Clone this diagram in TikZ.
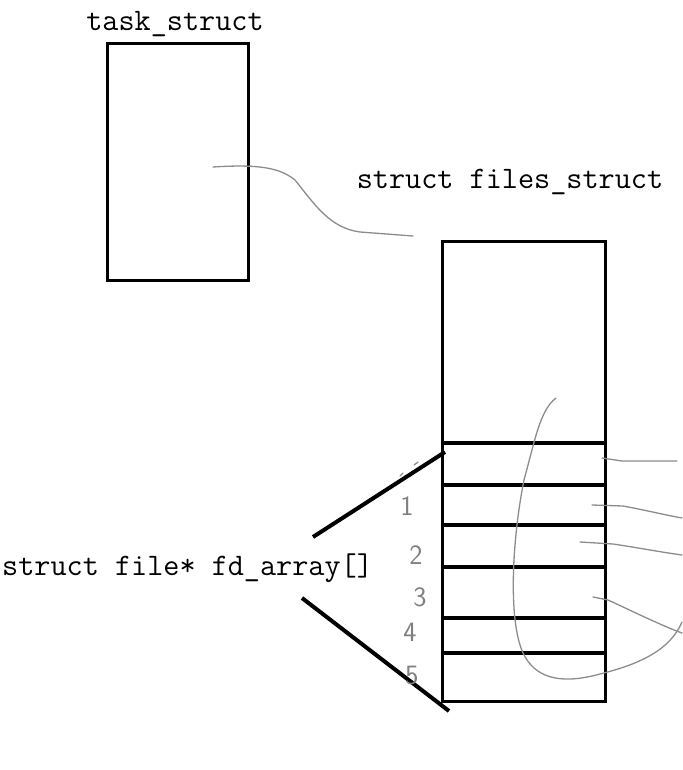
\documentclass[tikz,border=0pt]{standalone}
\begin{document}
\begin{tikzpicture}[x=1pt,y=-1pt,
    boxline/.style={draw=black, line width=3.2pt},
    scribble/.style={draw=black!45, line width=1.3pt, line cap=round, line join=round},
    lbl/.style={font=\fontsize{31.3}{34}\selectfont\ttfamily, inner sep=0pt},
    digit/.style={font=\fontsize{28}{30}\selectfont\sffamily, text=black!50, inner sep=0pt}]
  \useasboundingbox (0,0) rectangle (682,770);
  % the two structs
  \node[boxline, anchor=north west, minimum width=141pt, minimum height=237pt] (task) at (106,42) {};
  \node[lbl] (tasklbl) at (175,24) {task\_struct};
  \node[boxline, anchor=north west, minimum width=163pt, minimum height=460pt] (files) at (441,240) {};
  \node[lbl] (fileslbl) at (510,182) {struct files\_struct};
  \foreach \y in {443,485,525,567,618,653} {
    \draw[line width=4pt] (441,\y) -- (604,\y);
  }
  % fd_array pointer
  \node[lbl, anchor=west] (fdlbl) at (2,568) {struct file* fd\_array[]};
  \coordinate (uptop) at (313,537);
  \coordinate (lowtop) at (302,598);
  \coordinate (upend) at (445,452);
  \coordinate (lowend) at (449,711);
  \draw[line width=4pt] (uptop) -- (upend);
  \draw[line width=4pt] (lowtop) -- (lowend);
  % hand written indices
  \foreach \lab/\x/\y in {1/407/506, 2/416/555, 3/420/597, 4/410/632, 5/412/676} {
    \node[digit] (idx\lab) at (\x,\y) {\lab};
  }
  \draw[scribble] (400,476) -- (403,473);
  \draw[scribble] (414,465) -- (418,462);
  % pen strokes
  \draw[scribble] (213,167) .. controls (260,164) and (280,168) .. (295,180)
    .. controls (315,205) and (330,228) .. (360,232) -- (413,236);
  \draw[scribble] (556,398) .. controls (540,410) and (535,440) .. (524,480)
    .. controls (512,540) and (508,620) .. (523,653)
    .. controls (535,678) and (560,685) .. (600,674)
    .. controls (640,664) and (670,650) .. (682,622);
  \draw[scribble] (602,458) -- (622,461) -- (677,461);
  \draw[scribble] (592,505) -- (623,506) .. controls (645,510) and (665,515) .. (682,518);
  \draw[scribble] (580,542) -- (613,544) .. controls (640,548) and (660,552) .. (682,555);
  \draw[scribble] (593,597) -- (608,600) .. controls (630,610) and (660,625) .. (682,633);
\end{tikzpicture}
\end{document}
